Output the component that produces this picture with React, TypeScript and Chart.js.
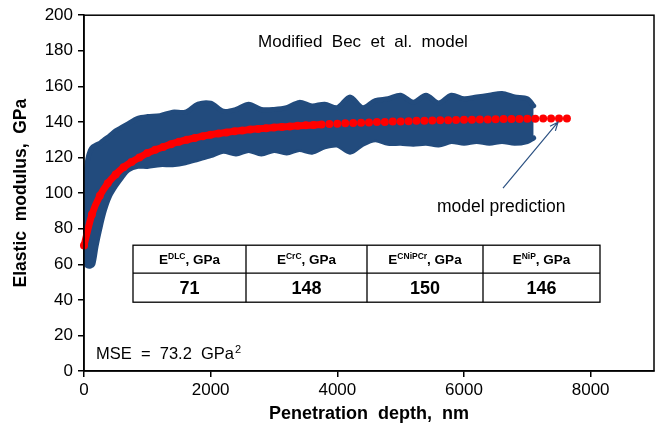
import { useEffect, useRef } from "react";
import { Chart, registerables } from "chart.js";

Chart.register(...registerables);

const FONT = "'Liberation Sans', Arial, Helvetica, sans-serif";
const BLUE = "#224b7d";
const RED = "#ff0000";

// Axis ticks
const xTickValues = [0, 2000, 4000, 6000, 8000];
const yTickValues = [0, 20, 40, 60, 80, 100, 120, 140, 160, 180, 200];

// Measured data band (envelope of the dense measured points)
const bandDepth = [
  0, 30, 60, 100, 140, 190, 250, 320, 400, 500, 600, 700, 850, 1000, 1200, 1400,
  1600, 1800, 2000, 2200, 2400, 2600, 2800, 3000, 3200, 3400, 3600, 3800, 4000,
  4200, 4400, 4600, 4800, 5000, 5200, 5400, 5600, 5800, 6000, 6200, 6400, 6600,
  6800, 7000, 7100,
];
const bandUpper = [
  90, 110, 119, 124, 126, 127, 128, 130, 132, 135, 137, 139, 142, 143, 143.5, 145.5,
  145.5, 150, 150.5, 146, 147, 150, 147, 147, 148, 151, 149, 150, 148,
  154, 148, 152, 153, 155, 151, 155, 150.6, 155, 153, 154, 155, 156,
  154, 153, 149,
];
const bandLower = [
  66, 60, 59, 59, 60, 70, 80, 90, 98, 104, 109, 113, 115, 115, 116, 116,
  117, 119, 121, 123.5, 122, 124, 122, 124, 122.5, 124.5, 123, 126, 127,
  123, 127.5, 130, 128, 128, 127.5, 128, 127, 129, 128, 129, 128, 129,
  128, 129, 131,
];

// Model prediction
const modelDepth = [
  0, 125, 250, 375, 500, 625, 750, 875, 1000, 1125, 1250, 1375, 1500, 1625, 1750,
  1875, 2000, 2125, 2250, 2375, 2500, 2625, 2750, 2875, 3000, 3125, 3250, 3375,
  3500, 3625, 3750, 3875, 4000, 4125, 4250, 4375, 4500, 4625, 4750, 4875, 5000,
  5125, 5250, 5375, 5500, 5625, 5750, 5875, 6000, 6125, 6250, 6375, 6500, 6625,
  6750, 6875, 7000, 7125, 7250, 7375, 7500, 7625,
];
const modelModulus = [
  70.5, 88, 98.5, 105.5, 110.5, 114.5, 117.5, 120, 122.5, 124.3, 125.9, 127.5, 128.8, 130, 131,
  132, 132.8, 133.5, 134.1, 134.7, 135.2, 135.7, 136.1, 136.5, 136.9, 137.2, 137.5, 137.8,
  138.1, 138.3, 138.6, 138.8, 139, 139.2, 139.4, 139.6, 139.7, 139.9, 140, 140.2, 140.3,
  140.4, 140.6, 140.7, 140.8, 140.9, 141, 141.1, 141.2, 141.3, 141.4, 141.4, 141.5, 141.6,
  141.6, 141.7, 141.8, 141.8, 141.9, 141.9, 142, 142,
];

// Inset table
const tableSubscripts = ["DLC", "CrC", "CNiPCr", "NiP"];
const tableValues = ["71", "148", "150", "146"];

const chartTitle = "Modified  Bec  et  al.  model";
const arrowLabel = "model prediction";
const mseText = "MSE  =  73.2  GPa";

const overlayPlugin = {
  id: "overlay",
  afterDraw(chart: any) {
    const ctx: CanvasRenderingContext2D = chart.ctx;
    const a = chart.chartArea;
    ctx.save();
    // frame
    ctx.strokeStyle = "#000";
    ctx.lineWidth = 1.5;
    ctx.strokeRect(a.left, a.top, a.right - a.left, a.bottom - a.top);

    // title inside plot
    ctx.fillStyle = "#000";
    ctx.textBaseline = "middle";
    ctx.textAlign = "center";
    ctx.font = `17px ${FONT}`;
    ctx.fillText(chartTitle, a.left + 279, a.top + 27);

    // arrow label
    ctx.textAlign = "left";
    ctx.font = `17.5px ${FONT}`;
    ctx.fillText(arrowLabel, a.left + 353, a.top + 192);

    // arrow
    const x0 = a.left + 419, y0 = a.top + 173;
    const x1 = a.left + 474, y1 = a.top + 107;
    ctx.strokeStyle = "#2d5283";
    ctx.lineWidth = 1.2;
    ctx.beginPath();
    ctx.moveTo(x0, y0);
    ctx.lineTo(x1, y1);
    const ang = Math.atan2(y1 - y0, x1 - x0);
    const L = 9;
    ctx.moveTo(x1 - L * Math.cos(ang - 0.4), y1 - L * Math.sin(ang - 0.4));
    ctx.lineTo(x1, y1);
    ctx.lineTo(x1 - L * Math.cos(ang + 0.4), y1 - L * Math.sin(ang + 0.4));
    ctx.stroke();

    // MSE
    ctx.fillStyle = "#000";
    ctx.font = `16.5px ${FONT}`;
    ctx.textAlign = "left";
    ctx.textBaseline = "alphabetic";
    const mx = a.left + 12, my = a.top + 344;
    ctx.fillText(mseText, mx, my);
    const mw = ctx.measureText(mseText).width;
    ctx.font = `11px ${FONT}`;
    ctx.fillText("2", mx + mw + 1, my - 6);

    // table
    const cols = [a.left + 49, a.left + 162, a.left + 283, a.left + 399, a.left + 516];
    const rows = [a.top + 230, a.top + 258, a.top + 287];
    ctx.strokeStyle = "#000";
    ctx.lineWidth = 1.3;
    ctx.fillStyle = "#fff";
    ctx.fillRect(cols[0], rows[0], cols[4] - cols[0], rows[2] - rows[0]);
    ctx.strokeRect(cols[0], rows[0], cols[4] - cols[0], rows[2] - rows[0]);
    ctx.beginPath();
    ctx.moveTo(cols[0], rows[1]);
    ctx.lineTo(cols[4], rows[1]);
    for (let i = 1; i < 4; i++) {
      ctx.moveTo(cols[i], rows[0]);
      ctx.lineTo(cols[i], rows[2]);
    }
    ctx.stroke();
    ctx.fillStyle = "#000";
    for (let i = 0; i < 4; i++) {
      const cx = (cols[i] + cols[i + 1]) / 2;
      // header
      const baseFont = `bold 13.5px ${FONT}`;
      const supFont = `bold 8.5px ${FONT}`;
      ctx.font = baseFont;
      const wE = ctx.measureText("E").width;
      const wRest = ctx.measureText(", GPa").width;
      ctx.font = supFont;
      const wSup = ctx.measureText(tableSubscripts[i]).width;
      const total = wE + wSup + wRest;
      let x = cx - total / 2;
      const by = (rows[0] + rows[1]) / 2 + 5;
      ctx.textAlign = "left";
      ctx.textBaseline = "alphabetic";
      ctx.font = baseFont;
      ctx.fillText("E", x, by);
      x += wE;
      ctx.font = supFont;
      ctx.fillText(tableSubscripts[i], x, by - 5);
      x += wSup;
      ctx.font = baseFont;
      ctx.fillText(", GPa", x, by);
      // value
      ctx.font = `bold 18px ${FONT}`;
      ctx.textAlign = "center";
      ctx.textBaseline = "middle";
      ctx.fillText(tableValues[i], cx, (rows[1] + rows[2]) / 2 + 1);
    }
    ctx.restore();
  },
};

export default function App() {
  const ref = useRef<HTMLCanvasElement>(null);
  useEffect(() => {
    if (!ref.current) return;
    const upper = bandDepth.map((x, i) => ({ x, y: bandUpper[i] }));
    const lower = bandDepth.map((x, i) => ({ x, y: bandLower[i] }));
    const model = modelDepth.map((x, i) => ({ x, y: modelModulus[i] }));
    const chart = new Chart(ref.current, {
      type: "line",
      data: {
        datasets: [
          {
            data: model,
            order: 0,
            borderColor: RED,
            backgroundColor: RED,
            borderWidth: 7,
            pointRadius: 4,
            pointBorderWidth: 0,
            pointBackgroundColor: RED,
            cubicInterpolationMode: "monotone",
            clip: 8,
            segment: {
              borderColor: (c: any) => (c.p1.parsed.x <= 3800 ? RED : "rgba(0,0,0,0)"),
            },
          } as any,
          {
            data: lower,
            order: 2,
            borderColor: BLUE,
            borderWidth: 5,
            borderJoinStyle: "round",
            borderCapStyle: "round",
            pointRadius: 0,
            tension: 0.3,
            fill: false,
          },
          {
            data: upper,
            order: 1,
            borderColor: BLUE,
            backgroundColor: BLUE,
            borderWidth: 5,
            borderJoinStyle: "round",
            borderCapStyle: "round",
            pointRadius: 0,
            tension: 0.3,
            fill: "-1",
          },
        ],
      },
      options: {
        animation: false,
        responsive: false,
        devicePixelRatio: 1,
        layout: { padding: { left: 0, right: 13, top: 15, bottom: 0 } },
        plugins: {
          legend: { display: false },
          tooltip: { enabled: false },
        },
        scales: {
          x: {
            type: "linear",
            min: 0,
            max: 9000,
            afterBuildTicks: (axis: any) => {
              axis.ticks = xTickValues.map((v) => ({ value: v }));
            },
            afterFit: (axis: any) => {
              axis.height = 64;
            },
            ticks: {
              color: "#000",
              font: { family: FONT, size: 17 },
              padding: 3,
              maxRotation: 0,
              callback: (v: any) => String(v),
            },
            grid: {
              drawOnChartArea: false,
              drawTicks: true,
              tickLength: 6,
              color: "#000",
              lineWidth: 1.5,
            },
            border: { color: "#000", width: 1.5 },
            title: {
              display: true,
              text: "Penetration  depth,  nm",
              color: "#000",
              font: { family: FONT, size: 18, weight: "bold" },
              padding: { top: 0, bottom: 10 },
            },
          },
          y: {
            min: 0,
            max: 200,
            afterBuildTicks: (axis: any) => {
              axis.ticks = yTickValues.map((v) => ({ value: v }));
            },
            afterFit: (axis: any) => {
              axis.width = 84;
            },
            ticks: {
              color: "#000",
              font: { family: FONT, size: 17 },
              padding: 5,
            },
            grid: {
              drawOnChartArea: false,
              drawTicks: true,
              tickLength: 6,
              color: "#000",
              lineWidth: 1.5,
            },
            border: { color: "#000", width: 1.5 },
            title: {
              display: true,
              text: "Elastic  modulus,  GPa",
              color: "#000",
              font: { family: FONT, size: 17.5, weight: "bold" },
              padding: { top: 11, bottom: 0 },
            },
          },
        },
      },
      plugins: [overlayPlugin],
    });
    return () => chart.destroy();
  }, []);
  return (
    <div style={{ position: "fixed", left: 0, top: 0, width: 667, height: 435, background: "#fff" }}>
      <canvas ref={ref} width={667} height={435} style={{ width: 667, height: 435, display: "block" }} />
    </div>
  );
}
